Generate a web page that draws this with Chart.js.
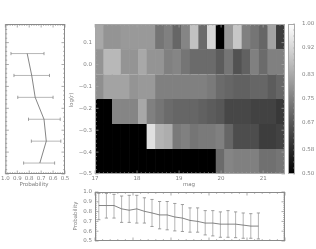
<!DOCTYPE html>
<html><head><meta charset="utf-8">
<style>
html,body{margin:0;padding:0;background:#fff;width:316px;height:249px;overflow:hidden}
canvas{position:absolute;left:0;top:0}
#wrap{position:absolute;left:0;top:0;width:316px;height:249px;filter:blur(0.35px)}
</style>
<script src="https://cdn.jsdelivr.net/npm/chart.js@4/dist/chart.umd.min.js"></script>
</head><body><div id="wrap">
<canvas id="cHeat" width="316" height="249"></canvas>
<canvas id="cBar" width="316" height="249"></canvas>
<canvas id="cLeft" width="316" height="249"></canvas>
<canvas id="cBottom" width="316" height="249"></canvas>
</div>
<script>
// ---------- data ----------
const magBins = ['17.1','17.3','17.5','17.7','17.9','18.1','18.3','18.5','18.7','18.9','19.1','19.3','19.5','19.7','19.9','20.1','20.3','20.5','20.7','20.9','21.1','21.3'];
const rowEdges = [-0.5,-0.386,-0.272,-0.158,-0.044,0.07,0.185];
// rows listed bottom to top; 0.50 is black, 1.00 is white
const row0 = [.50,.50,.50,.50,.50,.50,.50,.50,.50,.50,.50,.50,.50,.50,.71,.76,.75,.75,.75,.72,.72,.73];
const row1 = [.50,.50,.50,.50,.50,.50,.94,.85,.84,.74,.75,.73,.74,.74,.75,.70,.65,.65,.65,.62,.62,.63];
const row2 = [.50,.50,.76,.76,.76,.83,.75,.73,.71,.70,.70,.70,.69,.68,.67,.64,.64,.64,.63,.63,.63,.61];
const row3 = [.78,.82,.82,.82,.79,.80,.80,.75,.75,.75,.75,.75,.75,.74,.71,.70,.69,.69,.70,.70,.68,.70];
const row4 = [.79,.86,.86,.79,.79,.83,.79,.79,.75,.76,.73,.71,.71,.71,.68,.73,.66,.69,.75,.71,.75,.75];
const row5 = [.83,.79,.79,.80,.80,.80,.80,.73,.75,.70,.76,.88,.71,.92,.50,.80,.89,.75,.73,.70,.82,.62];
const heatRows = [row0,row1,row2,row3,row4,row5];

const magTicks = [17,18,19,20,21];
const logrTicks = [0.1,0,-0.1,-0.2,-0.3,-0.4,-0.5];
const barTicks = [1.00,0.92,0.83,0.75,0.67,0.58,0.50];
const probTicksLeft = [1.0,0.9,0.8,0.7,0.6,0.5];
const probTicksBottom = [1.0,0.9,0.8,0.7,0.6,0.5];

const logrCentres = [0.05,-0.05,-0.15,-0.25,-0.35,-0.45];
const logrProb = [.817,.779,.750,.676,.657,.711];
const logrLow  = [.676,.630,.600,.540,.535,.587];
const logrHigh = [.953,.928,.896,.806,.782,.847];

const magCentres = [17.1,17.3,17.5,17.7,17.9,18.1,18.3,18.5,18.7,18.9,19.1,19.3,19.5,19.7,19.9,20.1,20.3,20.5,20.7,20.9,21.1,21.3];
const magProb = [.862,.862,.862,.828,.814,.828,.803,.786,.766,.766,.745,.734,.710,.700,.683,.683,.672,.672,.672,.662,.652,.652];
const magLow  = [.717,.734,.734,.690,.690,.683,.683,.648,.624,.614,.603,.597,.590,.590,.562,.552,.538,.538,.534,.528,.528,.521];
const magHigh = [.986,.986,.976,.959,.966,.966,.941,.924,.903,.903,.883,.872,.838,.838,.810,.810,.797,.810,.797,.786,.779,.786];

// ---------- shared style ----------
const FONT = {family:'"DejaVu Sans"',size:5.5};
const TEXT = '#808080', AXIS = '#8a8a8a';
const YW = 30, XH = 14, RW = 21;
Chart.defaults.animation = false;
Chart.defaults.responsive = false;
Chart.defaults.plugins.legend.display = false;
Chart.defaults.plugins.tooltip.enabled = false;

function minus(v,d){ return v.toFixed(d).replace('-','\u2212'); }
function axis(extra,tickVals,fmt,size,pd){
  return Object.assign({type:'linear',offset:false,grid:{display:false,drawTicks:false,offset:false},border:{display:false},
    afterFit:s=>{ if(s.isHorizontal()) s.height=size; else s.width=size; },
    afterBuildTicks:s=>{s.ticks=tickVals.map(v=>({value:v}));},
    ticks:{font:FONT,color:TEXT,padding:pd,maxRotation:0,autoSkip:false,callback:fmt}},extra);
}

// inward major/minor ticks on the opposite sides of a panel, plus its frame
function frame(o){ return {id:'frame',afterDatasetsDraw(c){
  const g=c.ctx,a=c.chartArea; g.save(); g.strokeStyle=o.color||AXIS; g.lineWidth=1;
  g.strokeRect(a.left+.5,a.top+.5,a.right-a.left-1,a.bottom-a.top-1);
  g.lineWidth=.7;
  const run=(sc,step,maj,horizontal)=>{
    if(!step) return;
    const lo=Math.min(sc.min,sc.max),hi=Math.max(sc.min,sc.max);
    for(let k=Math.ceil(lo/step-1e-6);k*step<=hi+1e-9;k++){
      const v=k*step,p=sc.getPixelForValue(v);
      const isMaj=Math.abs(v/maj-Math.round(v/maj))<1e-6, L=isMaj?3.5:1.8;
      g.beginPath();
      if(horizontal){g.moveTo(p,a.top);g.lineTo(p,a.top+L);g.moveTo(p,a.bottom);g.lineTo(p,a.bottom-L);}
      else{ if(!o.rightOnly){g.moveTo(a.left,p);g.lineTo(a.left+L,p);} g.moveTo(a.right,p);g.lineTo(a.right-L,p);}
      g.stroke();
    }
  };
  run(c.scales.x,o.xStep,o.xMaj,true);
  run(c.scales.y,o.yStep,o.yMaj,false);
  g.restore();
}};}
function caption(text,x,y,rot){ return {id:'cap'+text+x,afterDraw(c){
  const g=c.ctx; g.save(); g.translate(x,y); g.rotate(rot||0);
  g.font='5.5px "DejaVu Sans"'; g.fillStyle=TEXT; g.textAlign='center'; g.textBaseline='middle';
  g.fillText(text,0,0); g.restore();
}};}
function grey(v){ const g=Math.round((v-.5)*510); return `rgb(${g},${g},${g})`; }

// ---------- heat map ----------
new Chart('cHeat',{type:'bar',
  data:{labels:magBins,datasets:heatRows.map((row,i)=>({
    xAxisID:'xc',yAxisID:'y',grouped:false,barPercentage:1,categoryPercentage:1,
    data:row.map(()=>[rowEdges[i],rowEdges[i+1]]),
    backgroundColor:row.map(grey),borderColor:row.map(grey),borderWidth:.3
  }))},
  options:{layout:{padding:{left:95-YW,top:24,right:316-285,bottom:249-174-XH}},
    scales:{
      xc:{type:'category',display:false,offset:true},
      x:axis({position:'bottom',min:17,max:21.52},magTicks,v=>String(v),XH,1),
      y:axis({position:'left',min:-.5,max:.185},logrTicks,v=>minus(v,1),YW,3)
    }},
  plugins:[frame({xStep:.1,xMaj:1,yStep:.02,yMaj:.1,color:'#a8a8a8'}),caption('mag',189,185),caption('log(r)',72,100,-Math.PI/2)]
});

// ---------- colour bar ----------
new Chart('cBar',{type:'bar',
  data:{labels:['p'],datasets:[{xAxisID:'xc',yAxisID:'y',barPercentage:1,categoryPercentage:1,data:[[.5,1]],
    backgroundColor:c=>{const a=c.chart.chartArea;if(!a)return '#888';
      const g=c.chart.ctx.createLinearGradient(0,a.bottom,0,a.top);g.addColorStop(0,'#000');g.addColorStop(1,'#fff');return g;}}]},
  options:{layout:{padding:{left:288,top:24,right:0,bottom:249-174}},
    scales:{
      xc:{type:'category',display:false},
      x:{type:'linear',display:false,min:0,max:1},
      y:axis({position:'right',min:.5,max:1},barTicks,v=>v.toFixed(2),RW,7)
    }},
  plugins:[frame({yStep:.02,yMaj:.0833,rightOnly:true,color:'#a8a8a8'})]
});

function errorSeries(pairs){ const out=[]; pairs.forEach(p=>{out.push(p[0],p[1],{x:NaN,y:NaN});}); return out; }

// ---------- probability against log(r) ----------
new Chart('cLeft',{type:'scatter',
  data:{datasets:[
    {data:logrCentres.map((y,i)=>({x:logrProb[i],y})),showLine:true,borderColor:'#666',borderWidth:.8,pointRadius:0},
    {data:errorSeries(logrCentres.map((y,i)=>[{x:logrLow[i],y},{x:logrHigh[i],y}])),showLine:true,spanGaps:false,
     borderColor:'#a5a5a5',borderWidth:.8,pointStyle:'line',rotation:90,pointRadius:1.6,pointBorderColor:'#888',pointBorderWidth:.8}
  ]},
  options:{layout:{padding:{left:3,top:24,right:316-65,bottom:249-174-XH}},
    scales:{
      x:axis({position:'bottom',min:.5,max:1,reverse:true},probTicksLeft,v=>v.toFixed(1),XH,1),
      y:{type:'linear',display:false,min:-.5,max:.185}
    }},
  plugins:[frame({xStep:.02,xMaj:.1,yStep:.02,yMaj:.1}),caption('Probability',34,185)]
});

// ---------- probability against magnitude ----------
new Chart('cBottom',{type:'scatter',
  data:{datasets:[
    {data:magCentres.map((x,i)=>({x,y:magProb[i]})),showLine:true,borderColor:'#666',borderWidth:.8,pointRadius:0},
    {data:errorSeries(magCentres.map((x,i)=>[{x,y:magLow[i]},{x,y:magHigh[i]}])),showLine:true,spanGaps:false,
     borderColor:'#b5b5b5',borderWidth:1,pointStyle:'line',pointRadius:1.6,pointBorderColor:'#888',pointBorderWidth:.8}
  ]},
  options:{layout:{padding:{left:95-YW,top:192,right:316-285,bottom:249-241}},
    scales:{
      x:{type:'linear',display:false,min:17,max:22},
      y:axis({position:'left',min:.5,max:1},probTicksBottom,v=>v.toFixed(1),YW,3)
    }},
  plugins:[frame({xStep:.2,xMaj:1,yStep:.02,yMaj:.1}),caption('Probability',76,216,-Math.PI/2)]
});
</script>
</body></html>
